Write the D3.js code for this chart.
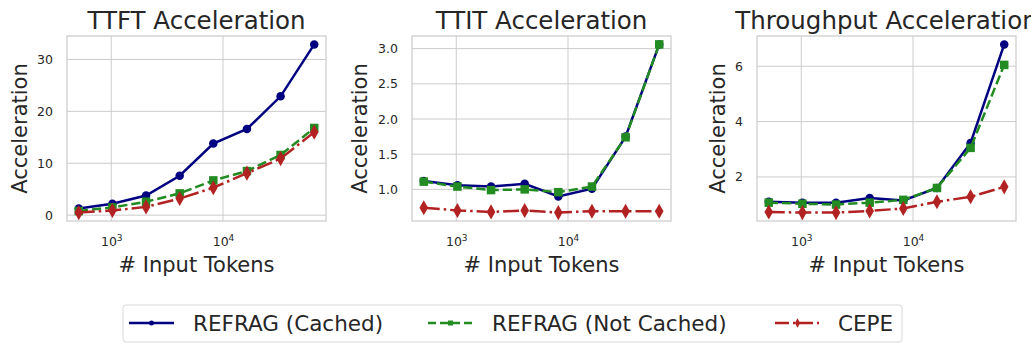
<!DOCTYPE html>
<html>
<head>
<meta charset="utf-8">
<script src="https://cdn.jsdelivr.net/npm/d3@7"></script>
<style>
  body { margin: 0; background: #fff; }
  text { font-family: "DejaVu Sans", sans-serif; fill: #262626; }
</style>
</head>
<body>
<div id="chart-area"></div>
<script>
const tokens = [512, 1024, 2048, 4096, 8192, 16384, 32768, 65536];

const ttftCached    = [1.3, 2.2, 3.8, 7.6, 13.8, 16.6, 22.9, 32.9];
const ttftNotCached = [0.8, 1.5, 2.6, 4.2, 6.7, 8.5, 11.6, 16.8];
const ttftCepe      = [0.5, 0.9, 1.6, 3.2, 5.3, 8.1, 10.9, 16.0];

const ttitCached    = [1.12, 1.06, 1.04, 1.08, 0.90, 1.01, 1.75, 3.06];
const ttitNotCached = [1.11, 1.04, 0.99, 1.00, 0.96, 1.04, 1.74, 3.06];
const ttitCepe      = [0.74, 0.70, 0.68, 0.70, 0.67, 0.69, 0.69, 0.69];

const thrCached    = [1.10, 1.07, 1.07, 1.24, 1.15, 1.60, 3.23, 6.79];
const thrNotCached = [1.07, 1.03, 1.00, 1.07, 1.17, 1.60, 3.05, 6.05];
const thrCepe      = [0.73, 0.71, 0.71, 0.77, 0.86, 1.10, 1.28, 1.64];

const seriesNames = ["REFRAG (Cached)", "REFRAG (Not Cached)", "CEPE"];
const titles = ["TTFT Acceleration", "TTIT Acceleration", "Throughput Acceleration"];
const yTicks = [[0, 10, 20, 30], [1.0, 1.5, 2.0, 2.5, 3.0], [2, 4, 6]];
const xTicks = [1000, 10000];

const styles = [
    { color: "#000080", dash: null, marker: "circle" },
    { color: "#228B22", dash: "9.25,4", marker: "square" },
    { color: "#B22222", dash: "16,4,2.5,4", marker: "diamond" }
];

const panels = [
    { data: [ttftCached, ttftNotCached, ttftCepe], fmt: d => d },
    { data: [ttitCached, ttitNotCached, ttitCepe], fmt: d3.format(".1f") },
    { data: [thrCached, thrNotCached, thrCepe], fmt: d => d }
];

const width = 1031;
const height = 344;
const plotW = 259;
const plotTop = 36;
const plotH = 185;
const lefts = [67, 412, 757];
const ylabelX = [27, 367, 725];

const svg = d3.select('#chart-area')
    .append('svg')
    .attr("width", width)
    .attr("height", height);

function marker(g, type, size, color) {
    if (type === "circle") {
        g.append('circle').attr('r', size / 2).attr('fill', color);
    } else if (type === "square") {
        g.append('rect')
            .attr('x', -size / 2).attr('y', -size / 2)
            .attr('width', size).attr('height', size)
            .attr('fill', color);
    } else {
        const w = size * 0.33, h = size * 0.58;
        g.append('path')
            .attr('d', `M0,${-h}L${w},0L0,${h}L${-w},0Z`)
            .attr('fill', color);
    }
}

// log domain with 5% padding like matplotlib
const lx0 = Math.log10(d3.min(tokens)), lx1 = Math.log10(d3.max(tokens));
const lpad = (lx1 - lx0) * 0.05;

panels.forEach((p, i) => {
    const g = svg.append('g')
        .attr("transform", `translate(${lefts[i]}, ${plotTop})`);

    const x = d3.scaleLog()
        .domain([Math.pow(10, lx0 - lpad), Math.pow(10, lx1 + lpad)])
        .range([0, plotW]);

    const all = p.data.flat();
    const ymin = d3.min(all), ymax = d3.max(all);
    const ypad = (ymax - ymin) * 0.05;
    const y = d3.scaleLinear()
        .domain([ymin - ypad, ymax + ypad])
        .range([plotH, 0]);

    // grid
    g.append('g').selectAll('line')
        .data(yTicks[i])
        .enter().append('line')
        .attr('x1', 0).attr('x2', plotW)
        .attr('y1', d => y(d)).attr('y2', d => y(d))
        .attr('stroke', '#cccccc').attr('stroke-width', 1);
    g.append('g').selectAll('line')
        .data(xTicks)
        .enter().append('line')
        .attr('x1', d => x(d)).attr('x2', d => x(d))
        .attr('y1', 0).attr('y2', plotH)
        .attr('stroke', '#cccccc').attr('stroke-width', 1);

    g.append('rect')
        .attr('width', plotW).attr('height', plotH)
        .attr('fill', 'none')
        .attr('stroke', '#cccccc').attr('stroke-width', 1.25);

    // axes
    const yAxis = d3.axisLeft(y).tickValues(yTicks[i]).tickSize(0).tickPadding(14).tickFormat(p.fmt);
    g.append('g').call(yAxis)
        .call(a => a.select('.domain').remove())
        .selectAll('text')
        .style('font-size', '12.5px')
        .style('fill', '#262626');

    const xAxis = d3.axisBottom(x).tickValues(xTicks).tickSize(0).tickFormat(() => "");
    const xa = g.append('g').attr('transform', `translate(0, ${plotH})`).call(xAxis);
    xa.select('.domain').remove();
    xa.selectAll('.tick').each(function (d) {
        const t = d3.select(this).select('text')
            .style('font-size', '12.5px').style('fill', '#262626')
            .attr('dy', null).attr('y', 25);
        t.append('tspan').text('10');
        t.append('tspan').text(Math.round(Math.log10(d)))
            .attr('dy', -5).style('font-size', '9px');
    });

    // series
    p.data.forEach((vals, s) => {
        const st = styles[s];
        const line = d3.line()
            .x((d, k) => x(tokens[k]))
            .y(d => y(d));
        g.append('path')
            .datum(vals)
            .attr('d', line)
            .attr('fill', 'none')
            .attr('stroke', st.color)
            .attr('stroke-width', 2.5)
            .attr('stroke-dasharray', st.dash);
        vals.forEach((v, k) => {
            const mg = g.append('g').attr('transform', `translate(${x(tokens[k])}, ${y(v)})`);
            marker(mg, st.marker, st.marker === "diamond" ? 13 : 8.5, st.color);
        });
    });

    // labels
    g.append('text')
        .attr('x', plotW / 2).attr('y', -7)
        .attr('text-anchor', 'middle')
        .style('font-size', '24.5px')
        .text(titles[i]);

    g.append('text')
        .attr('x', plotW / 2).attr('y', 236)
        .attr('text-anchor', 'middle')
        .style('font-size', '21px')
        .text("# Input Tokens");

    g.append('text')
        .attr('transform', `translate(${ylabelX[i] - lefts[i]}, ${plotH / 2}) rotate(-90)`)
        .attr('text-anchor', 'middle')
        .style('font-size', '21px')
        .text("Acceleration");
});

// legend
const legend = svg.append('g');
legend.append('rect')
    .attr('x', 123).attr('y', 305).attr('width', 779).attr('height', 37)
    .attr('rx', 3)
    .attr('fill', '#fff').attr('stroke', '#d8d8d8').attr('stroke-width', 1);

const legX = [129, 428, 775];
const legTextX = [64, 64, 63];
seriesNames.forEach((name, s) => {
    const st = styles[s];
    const lg = legend.append('g').attr('transform', `translate(${legX[s]}, 323)`);
    lg.append('line')
        .attr('x1', 0).attr('x2', 45)
        .attr('stroke', st.color).attr('stroke-width', 2.5)
        .attr('stroke-dasharray', s === 1 ? "8,4" : (s === 2 ? "14,4,2,4" : null));
    const mg = lg.append('g').attr('transform', 'translate(22.5, 0)');
    marker(mg, st.marker, st.marker === "diamond" ? 8 : 5, st.color);
    lg.append('text')
        .attr('x', legTextX[s]).attr('y', 8)
        .style('font-size', '21.5px')
        .text(name);
});
</script>
</body>
</html>
